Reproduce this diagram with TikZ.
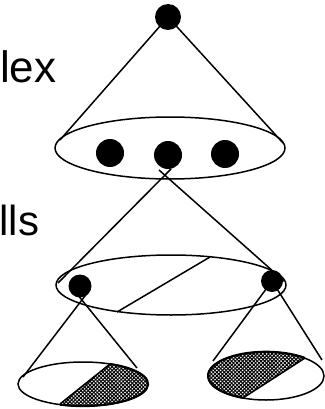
\documentclass[tikz,border=0pt]{standalone}
\usepackage{fontspec}
\setmainfont{Liberation Sans}
\usetikzlibrary{shapes.geometric,patterns.meta}
\begin{document}
\begin{tikzpicture}[x=1pt,y=-1pt,line width=1.5pt,
  dot/.style={circle,fill=black,inner sep=0pt},
  ring/.style={draw=black,ellipse,inner sep=0pt},
  lbl/.style={inner sep=0pt,anchor=base east},
  hatchA/.style={pattern={Lines[angle=45,distance=2.6pt,line width=1.05pt]}},
  hatchB/.style={pattern={Lines[angle=-45,distance=2.6pt,line width=1.05pt]}}]
\useasboundingbox (0,0) rectangle (324,409);
% labels
\node[lbl,font=\fontsize{44}{44}\selectfont] (l1) at (57,83) {lex};
\node[lbl,font=\fontsize{42}{42}\selectfont] (l2) at (40,235) {lls};
\node[lbl,font=\fontsize{42}{42}\selectfont] (l3) at (2.5,335) {s};
% top level
\node[dot,minimum size=26pt] (t) at (168,17) {};
\node[ring,minimum width=230pt,minimum height=62pt] (e1) at (170,148) {};
\coordinate (c1l) at (60,140);
\coordinate (c1r) at (283,143);
\draw (t.center) -- (c1l);
\draw (t.center) -- (c1r);
\node[dot,minimum size=28pt] (a1) at (110,153) {};
\node[dot,minimum size=28pt] (a2) at (168,155) {};
\node[dot,minimum size=28pt] (a3) at (225,154) {};
% middle level
\node[ring,minimum width=230pt,minimum height=60pt] (e2) at (171,285) {};
\coordinate (x1) at (171,169);
\coordinate (x2) at (159,170);
\coordinate (c2l) at (58,283);
\coordinate (c2r) at (284,281);
\draw (x1) -- (c2l);
\draw (x2) -- (c2r);
\coordinate (d1) at (117,312);
\coordinate (d2) at (210,257);
\draw (d1) -- (d2);
\node[dot,minimum size=23pt] (b1) at (80,286) {};
\node[dot,minimum size=22pt] (b2) at (272,281) {};
% lower left
\node[ring,minimum width=130pt,minimum height=44pt] (e3) at (83,384) {};
\coordinate (y1) at (88,292);
\coordinate (y2) at (75.4,292);
\coordinate (c3l) at (23,377);
\coordinate (c3r) at (137,368);
\draw (y1) -- (c3l);
\draw (y2) -- (c3r);
\fill[hatchA] (110,364) arc[start angle=-65.5,end angle=110.7,x radius=65,y radius=22] -- cycle;
\fill[hatchB] (110,364) arc[start angle=-65.5,end angle=110.7,x radius=65,y radius=22] -- cycle;
\draw[line width=2.2pt] (110,364) arc[start angle=-65.5,end angle=110.7,x radius=65,y radius=22];
\draw (60,404) -- (110,364);
% lower right
\node[ring,minimum width=116pt,minimum height=48pt] (e4) at (266,376) {};
\coordinate (c4l) at (213,361);
\coordinate (c4r) at (322,360);
\draw (b2.center) -- (c4l);
\draw (b2.center) -- (c4r);
\fill[hatchA] (305,358) arc[start angle=-47.8,end angle=-246.6,x radius=58,y radius=24] -- cycle;
\fill[hatchB] (305,358) arc[start angle=-47.8,end angle=-246.6,x radius=58,y radius=24] -- cycle;
\draw[line width=2.2pt] (305,358) arc[start angle=-47.8,end angle=-246.6,x radius=58,y radius=24];
\draw (243,398) -- (305,358);
\end{tikzpicture}
\end{document}
